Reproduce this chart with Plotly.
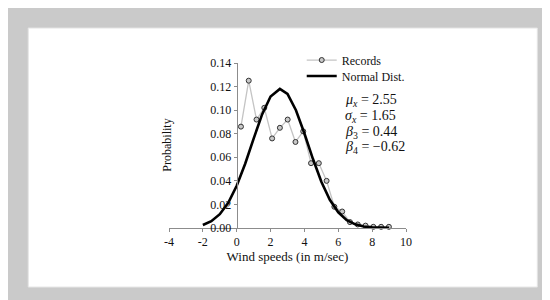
"""
Wind speed probability: recorded frequencies vs fitted normal distribution.
"""

import plotly.graph_objects as go

# Recorded relative frequencies (bin centres in m/sec)
records_x = [0.25, 0.71, 1.17, 1.63, 2.09, 2.55, 3.01, 3.47, 3.93, 4.39,
             4.85, 5.31, 5.77, 6.23, 6.69, 7.15, 7.61, 8.07, 8.53, 8.99]
records_y = [0.086, 0.125, 0.092, 0.102, 0.076, 0.085, 0.092, 0.073, 0.082, 0.055,
             0.055, 0.040, 0.018, 0.014, 0.005, 0.003, 0.002, 0.001, 0.001, 0.001]

# Normal distribution curve
normal_x = [-2.0, -1.5, -1.0, -0.5, 0.0, 0.5, 1.0, 1.5, 2.0, 2.55, 3.0, 3.5,
            4.0, 4.5, 5.0, 5.5, 6.0, 6.5, 7.0, 7.5, 8.0, 8.5, 9.0]
normal_y = [0.0026, 0.0058, 0.0117, 0.0214, 0.0358, 0.0545, 0.0759, 0.0964,
            0.1116, 0.118, 0.1137, 0.0999, 0.0802, 0.0587, 0.0392, 0.0239,
            0.0133, 0.0067, 0.0031, 0.0013, 0.0005, 0.0002, 0.0001]

x_tick_vals = [-4, -2, 0, 2, 4, 6, 8, 10]
x_tick_text = ['-4', '-2', '0', '2', '4', '6', '8', '10']
y_tick_vals = [0.00, 0.02, 0.04, 0.06, 0.08, 0.10, 0.12, 0.14]

stats_lines = [
    '<i>μ</i><sub><i>x</i></sub> = 2.55',
    '<i>σ</i><sub><i>x</i></sub> = 1.65',
    '<i>β</i><sub>3</sub> = 0.44',
    '<i>β</i><sub>4</sub> = −0.62',
]

FONT = 'Liberation Serif'
AXIS_GRAY = '#8c8c8c'
TEXT = '#111111'

fig = go.Figure()

fig.add_trace(go.Scatter(
    x=records_x,
    y=records_y,
    mode='lines+markers',
    name='Records',
    line=dict(color='#c4c4c4', width=1.3),
    marker=dict(size=5, color='#c8c8c8', line=dict(color='#333333', width=1)),
    cliponaxis=False,
    legend='legend'
))

fig.add_trace(go.Scatter(
    x=normal_x,
    y=normal_y,
    mode='lines',
    name='Normal Dist.',
    line=dict(color='black', width=2.6),
    cliponaxis=False,
    legend='legend2'
))

# Stats text block on the right
for i, txt in enumerate(stats_lines):
    fig.add_annotation(
        text=txt,
        xref='paper', yref='paper',
        x=0.735, y=0.77 - i * 0.095,
        xanchor='left', yanchor='middle',
        showarrow=False,
        font=dict(family=FONT, size=14, color=TEXT)
    )

# Y axis title sits far left, not next to the axis
fig.add_annotation(
    text='Probability',
    xref='paper', yref='paper',
    x=-0.012, y=0.5,
    xanchor='center', yanchor='middle',
    textangle=-90,
    showarrow=False,
    font=dict(family=FONT, size=12, color=TEXT)
)

# White card on a gray page
fig.add_shape(
    type='rect', xref='paper', yref='paper',
    x0=-0.594, x1=1.554, y0=-0.358, y1=1.212,
    fillcolor='white', line=dict(color='#e4e4e4', width=1),
    layer='below'
)

legend_style = dict(
    xanchor='left', yanchor='middle',
    bgcolor='rgba(0,0,0,0)',
    itemwidth=30,
    font=dict(family=FONT, size=12, color=TEXT)
)

fig.update_layout(
    width=550,
    height=300,
    margin=dict(l=161, r=152, t=55, b=80, autoexpand=False),
    paper_bgcolor='#cacaca',
    plot_bgcolor='rgba(0,0,0,0)',
    font=dict(family=FONT, size=12, color=TEXT),
    showlegend=True,
    legend=dict(x=0.56, y=1.018, **legend_style),
    legend2=dict(x=0.56, y=0.921, **legend_style),
    xaxis=dict(
        range=[-4, 10],
        tickvals=x_tick_vals,
        ticktext=x_tick_text,
        showgrid=False,
        zeroline=False,
        showline=True,
        linecolor=AXIS_GRAY,
        linewidth=1,
        ticks='outside',
        ticklen=3,
        tickcolor=AXIS_GRAY,
        title=dict(text='Wind speeds (in m/sec)', standoff=2,
                   font=dict(family=FONT, size=13))
    ),
    yaxis=dict(
        range=[0, 0.14],
        tickvals=y_tick_vals,
        tickformat='.2f',
        showgrid=False,
        zeroline=False,
        showline=True,
        linecolor=AXIS_GRAY,
        linewidth=1,
        ticks='outside',
        ticklen=3,
        tickcolor=AXIS_GRAY,
        anchor='free',
        position=4 / 14
    )
)

fig.write_html("out.html")
